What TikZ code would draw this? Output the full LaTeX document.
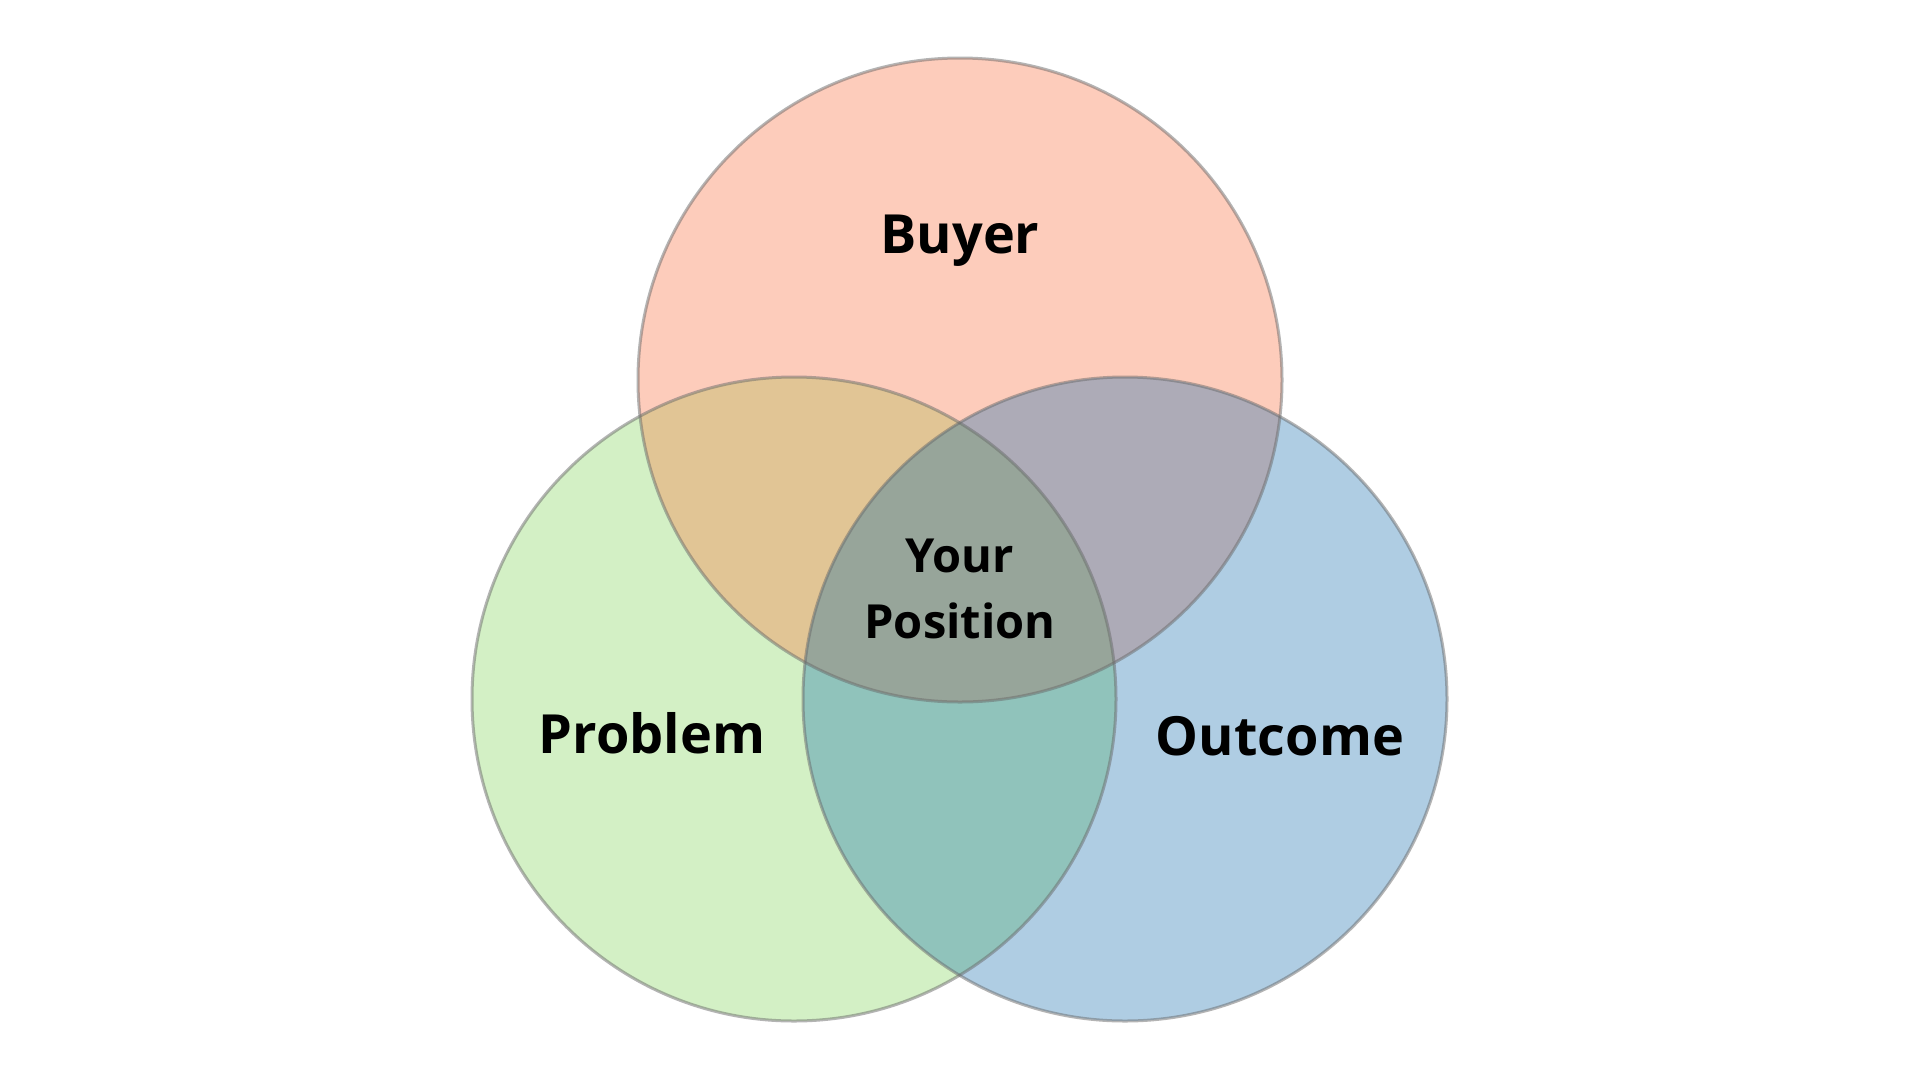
\documentclass[tikz,border=0pt]{standalone}
\usepackage{fontspec}
\setmainfont{Open Sans}
\definecolor{cBuyer}{HTML}{FDCCBB}
\definecolor{cProblem}{HTML}{D3F0C5}
\definecolor{cOutcome}{HTML}{AFCDE3}
\definecolor{cBP}{HTML}{E1C595}
\definecolor{cBO}{HTML}{ADABB7}
\definecolor{cPO}{HTML}{90C3BB}
\definecolor{cAll}{HTML}{97A59A}
\definecolor{ringgray}{HTML}{6A6A6A}
\tikzset{
  ring/.style={circle, draw=ringgray, draw opacity=0.5, line width=3pt, minimum size=644pt, inner sep=0pt},
  biglabel/.style={anchor=base, font=\bfseries\fontsize{54}{60}\selectfont, text=black},
  midlabel/.style={anchor=base, font=\bfseries\fontsize{47}{54}\selectfont, text=black}
}
\begin{document}
\begin{tikzpicture}[x=1pt,y=-1pt]
\useasboundingbox (0,0) rectangle (1920,1080);
\fill[white] (0,0) rectangle (1920,1080);
\coordinate (cb) at (960,380);
\coordinate (cp) at (794,699);
\coordinate (co) at (1125,699);
% base fills
\fill[cBuyer] (cb) circle[radius=322];
\fill[cProblem] (cp) circle[radius=322];
\fill[cOutcome] (co) circle[radius=322];
% pairwise overlaps
\begin{scope}
  \clip (cb) circle[radius=322];
  \fill[cBP] (cp) circle[radius=322];
  \fill[cBO] (co) circle[radius=322];
\end{scope}
\begin{scope}
  \clip (cp) circle[radius=322];
  \fill[cPO] (co) circle[radius=322];
\end{scope}
\begin{scope}
  \clip (cb) circle[radius=322];
  \clip (cp) circle[radius=322];
  \fill[cAll] (co) circle[radius=322];
\end{scope}
% rings
\node[ring] (buyer) at (cb) {};
\node[ring] (problem) at (cp) {};
\node[ring] (outcome) at (co) {};
% labels
\node[biglabel] (lbuyer) at (960,253) {Buyer};
\node[biglabel] (lproblem) at (652,753) {Problem};
\node[biglabel] (loutcome) at (1280,755) {Outcome};
\node[midlabel] (lyour) at (960,572) {Your};
\node[midlabel] (lpos) at (960,638) {Position};
\end{tikzpicture}
\end{document}
